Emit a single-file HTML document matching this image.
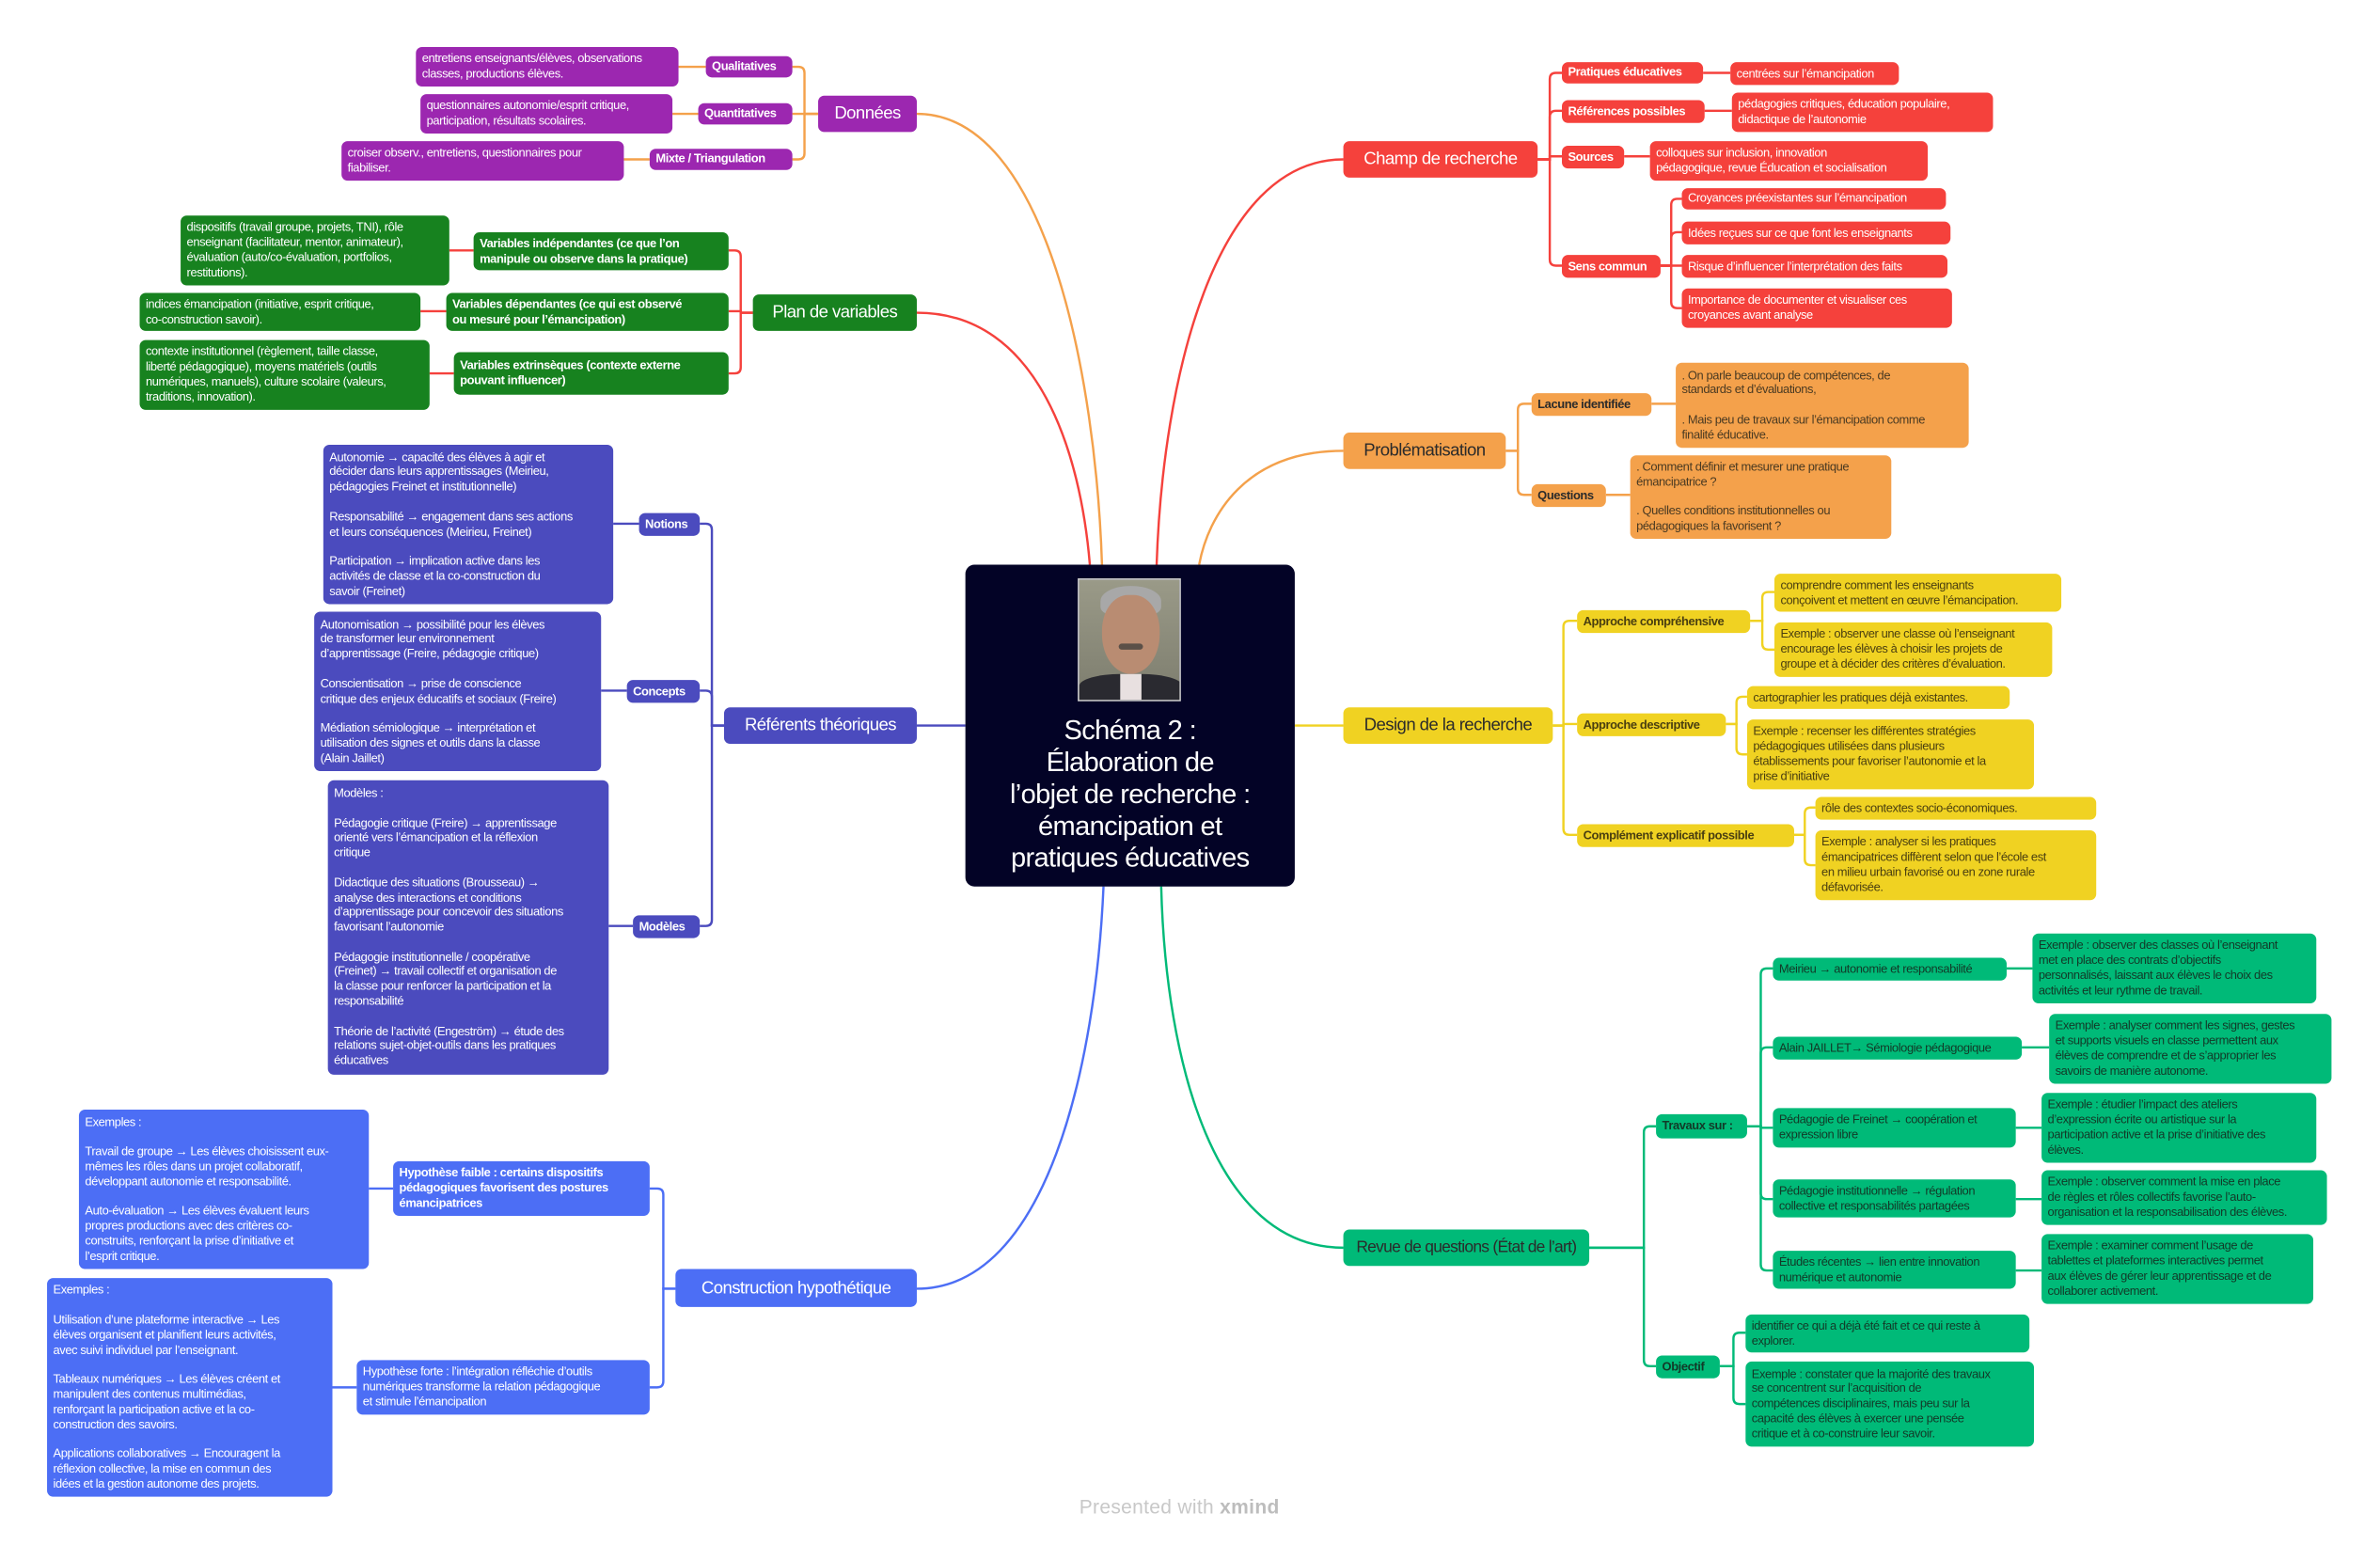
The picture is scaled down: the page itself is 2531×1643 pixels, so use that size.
<!DOCTYPE html>
<html><head><meta charset="utf-8">
<style>
html,body{margin:0;padding:0;background:#fff;}
body{width:2531px;height:1643px;overflow:hidden;position:relative;}
#s{position:absolute;left:0;top:0;width:1568px;height:1018px;transform:scale(1.6142);transform-origin:0 0;font-family:"Liberation Sans",sans-serif;}
.n{position:absolute;box-sizing:border-box;border-radius:4px;display:flex;align-items:center;padding:1px 4px;font-size:8px;line-height:9.8px;letter-spacing:-0.25px;color:#fff;white-space:nowrap;overflow:visible;}
.m{font-size:11.5px;justify-content:center;letter-spacing:-0.35px;padding-top:3px;}
.b{font-weight:bold;}
svg{position:absolute;left:0;top:0;}
</style></head><body><div id="s">
<svg id="g" width="1568" height="1018" viewBox="0 0 1568 1018" fill="none" stroke-width="1.5"></svg>
<div class="n" style="left:636px;top:372px;width:217px;height:212px;background:#030326;border-radius:6px;"></div>
<div style="position:absolute;left:710px;top:381px;width:68px;height:81px;background:linear-gradient(#9a9a88,#7d7d6e);overflow:hidden;border:1px solid #ccc;box-sizing:border-box;">
<div style="position:absolute;left:14px;top:4px;width:40px;height:20px;border-radius:50% 50% 30% 30%;background:#a8a8a8;"></div>
<div style="position:absolute;left:15px;top:10px;width:38px;height:52px;border-radius:45% 45% 50% 50%;background:#b98c72;"></div>
<div style="position:absolute;left:26px;top:42px;width:16px;height:4px;background:#5b5048;border-radius:2px;"></div>
<div style="position:absolute;left:0;top:62px;width:68px;height:20px;background:#2a2a30;border-radius:40% 40% 0 0;"></div>
<div style="position:absolute;left:27px;top:62px;width:14px;height:20px;background:#e8e0e0;"></div>
</div>
<div style="position:absolute;left:636px;top:471px;width:217px;text-align:center;color:#fff;font-size:18px;line-height:21px;letter-spacing:-0.4px;">Schéma 2 :<br>Élaboration de<br>l’objet de recherche :<br>émancipation et<br>pratiques éducatives</div>
<div id="nodes"></div>
<div style="position:absolute;left:711px;top:985px;font-size:13px;color:#c8c8c8;letter-spacing:0.2px;">Presented with <b style="color:#bdbdbd">xmind</b></div>
</div>
<script>
var P='#9C27B0',G='#17821F',I='#4B4BBE',B='#4C6EF5',R='#F5413C',O='#F4A14B',Y='#F0D222',T='#00BA78';
var dk='#2b2b2b';
var N=[
[539,63,604,87,P,'#fff','m','Données'],
[496,194,604,218,G,'#fff','m','Plan de variables'],
[477,466,604,490,I,'#fff','m','Référents théoriques'],
[445,836,604,861,B,'#fff','m','Construction hypothétique'],
[885,93,1013,117,R,'#fff','m','Champ de recherche'],
[885,285,992,309,O,dk,'m','Problématisation'],
[885,466,1023,490,Y,dk,'m','Design de la recherche'],
[885,810,1047,834,T,dk,'m','<span style="font-size:10.8px;letter-spacing:-0.45px">Revue de questions (État de l’art)</span>'],
[465,37,522,51,P,'#fff','b','Qualitatives'],
[274,31,447,57,P,'#fff','','entretiens enseignants/élèves, observations<br>classes, productions élèves.'],
[460,68,522,82,P,'#fff','b','Quantitatives'],
[277,62,443,88,P,'#fff','','questionnaires autonomie/esprit critique,<br>participation, résultats scolaires.'],
[428,98,522,112,P,'#fff','b','Mixte / Triangulation'],
[225,93,411,119,P,'#fff','','croiser observ., entretiens, questionnaires pour<br>fiabiliser.'],
[312,153,480,178,G,'#fff','b','Variables indépendantes (ce que l’on<br>manipule ou observe dans la pratique)'],
[119,142,296,188,G,'#fff','','dispositifs (travail groupe, projets, TNI), rôle<br>enseignant (facilitateur, mentor, animateur),<br>évaluation (auto/co-évaluation, portfolios,<br>restitutions).'],
[294,193,480,218,G,'#fff','b','Variables dépendantes (ce qui est observé<br>ou mesuré pour l’émancipation)'],
[92,193,277,218,G,'#fff','','indices émancipation (initiative, esprit critique,<br>co-construction savoir).'],
[299,232,480,260,G,'#fff','b','Variables extrinsèques (contexte externe<br>pouvant influencer)'],
[92,224,283,270,G,'#fff','','contexte institutionnel (règlement, taille classe,<br>liberté pédagogique), moyens matériels (outils<br>numériques, manuels), culture scolaire (valeurs,<br>traditions, innovation).'],
[421,338,461,353,I,'#fff','b','Notions'],
[213,293,404,398,I,'#fff','','Autonomie → capacité des élèves à agir et<br>décider dans leurs apprentissages (Meirieu,<br>pédagogies Freinet et institutionnelle)<br><br>Responsabilité → engagement dans ses actions<br>et leurs conséquences (Meirieu, Freinet)<br><br>Participation → implication active dans les<br>activités de classe et la co-construction du<br>savoir (Freinet)'],
[413,448,461,463,I,'#fff','b','Concepts'],
[207,403,396,508,I,'#fff','','Autonomisation → possibilité pour les élèves<br>de transformer leur environnement<br>d’apprentissage (Freire, pédagogie critique)<br><br>Conscientisation → prise de conscience<br>critique des enjeux éducatifs et sociaux (Freire)<br><br>Médiation sémiologique → interprétation et<br>utilisation des signes et outils dans la classe<br>(Alain Jaillet)'],
[417,603,461,618,I,'#fff','b','Modèles'],
[216,514,401,708,I,'#fff','','Modèles :<br><br>Pédagogie critique (Freire) → apprentissage<br>orienté vers l’émancipation et la réflexion<br>critique<br><br>Didactique des situations (Brousseau) →<br>analyse des interactions et conditions<br>d’apprentissage pour concevoir des situations<br>favorisant l’autonomie<br><br>Pédagogie institutionnelle / coopérative<br>(Freinet) → travail collectif et organisation de<br>la classe pour renforcer la participation et la<br>responsabilité<br><br>Théorie de l’activité (Engeström) → étude des<br>relations sujet-objet-outils dans les pratiques<br>éducatives'],
[259,765,428,801,B,'#fff','b','Hypothèse faible : certains dispositifs<br>pédagogiques favorisent des postures<br>émancipatrices'],
[52,731,243,836,B,'#fff','','Exemples :<br><br>Travail de groupe → Les élèves choisissent eux-<br>mêmes les rôles dans un projet collaboratif,<br>développant autonomie et responsabilité.<br><br>Auto-évaluation → Les élèves évaluent leurs<br>propres productions avec des critères co-<br>construits, renforçant la prise d’initiative et<br>l’esprit critique.'],
[235,896,428,932,B,'#fff','','Hypothèse forte : l’intégration réfléchie d’outils<br>numériques transforme la relation pédagogique<br>et stimule l’émancipation'],
[31,842,219,986,B,'#fff','','Exemples :<br><br>Utilisation d’une plateforme interactive → Les<br>élèves organisent et planifient leurs activités,<br>avec suivi individuel par l’enseignant.<br><br>Tableaux numériques → Les élèves créent et<br>manipulent des contenus multimédias,<br>renforçant la participation active et la co-<br>construction des savoirs.<br><br>Applications collaboratives  → Encouragent la<br>réflexion collective, la mise en commun des<br>idées et la gestion autonome des projets.'],
[1029,41,1122,55,R,'#fff','b','Pratiques éducatives'],
[1140,41,1251,56,R,'#fff','','centrées sur l’émancipation'],
[1029,66,1123,81,R,'#fff','b','Références possibles'],
[1141,61,1313,87,R,'#fff','','pédagogies critiques, éducation populaire,<br>didactique de l’autonomie'],
[1029,96,1070,111,R,'#fff','b','Sources'],
[1087,93,1270,119,R,'#fff','','colloques sur inclusion, innovation<br>pédagogique, revue Éducation et socialisation'],
[1029,168,1094,183,R,'#fff','b','Sens commun'],
[1108,124,1282,138,R,'#fff','','Croyances préexistantes sur l’émancipation'],
[1108,146,1285,161,R,'#fff','','Idées reçues sur ce que font les enseignants'],
[1108,168,1283,183,R,'#fff','','Risque d’influencer l’interprétation des faits'],
[1108,190,1286,216,R,'#fff','','Importance de documenter et visualiser ces<br>croyances avant analyse'],
[1009,259,1088,274,O,dk,'b','Lacune identifiée'],
[1104,239,1297,295,O,'#4a3a22','','. On parle beaucoup de compétences, de<br>standards et d’évaluations,<br><br>. Mais peu de travaux sur l’émancipation comme<br>finalité éducative.'],
[1009,319,1058,334,O,dk,'b','Questions'],
[1074,300,1246,355,O,'#4a3a22','','. Comment définir et mesurer une pratique<br>émancipatrice ?<br><br>. Quelles conditions institutionnelles ou<br>pédagogiques la favorisent ?'],
[1039,402,1153,417,Y,'#4a3f10','b','Approche compréhensive'],
[1169,378,1358,403,Y,'#4a3f10','','comprendre comment les enseignants<br>conçoivent et mettent en œuvre l’émancipation.'],
[1169,410,1352,446,Y,'#4a3f10','','Exemple : observer une classe où l’enseignant<br>encourage les élèves à choisir les projets de<br>groupe et à décider des critères d’évaluation.'],
[1039,470,1137,485,Y,'#4a3f10','b','Approche descriptive'],
[1151,452,1324,467,Y,'#4a3f10','','cartographier les pratiques déjà existantes.'],
[1151,474,1340,520,Y,'#4a3f10','','Exemple : recenser les différentes stratégies<br>pédagogiques utilisées dans plusieurs<br>établissements pour favoriser l’autonomie et la<br>prise d’initiative'],
[1039,543,1182,558,Y,'#4a3f10','b','Complément explicatif possible'],
[1196,525,1381,540,Y,'#4a3f10','','rôle des contextes socio-économiques.'],
[1196,547,1381,593,Y,'#4a3f10','','Exemple : analyser si les pratiques<br>émancipatrices diffèrent selon que l’école est<br>en milieu urbain favorisé ou en zone rurale<br>défavorisée.'],
[1091,734,1151,750,T,'#123a28','b','Travaux sur :'],
[1168,631,1322,646,T,'#123a28','','Meirieu → autonomie et responsabilité'],
[1339,615,1526,661,T,'#123a28','','Exemple : observer des classes où l’enseignant<br>met en place des contrats d’objectifs<br>personnalisés, laissant aux élèves le choix des<br>activités et leur rythme de travail.'],
[1168,683,1332,698,T,'#123a28','','Alain JAILLET→ Sémiologie pédagogique'],
[1350,668,1536,714,T,'#123a28','','Exemple : analyser comment les signes, gestes<br>et supports visuels en classe permettent aux<br>élèves de comprendre et de s’approprier les<br>savoirs de manière autonome.'],
[1168,730,1328,756,T,'#123a28','','Pédagogie de Freinet → coopération et<br>expression libre'],
[1345,720,1526,766,T,'#123a28','','Exemple : étudier l’impact des ateliers<br>d’expression écrite ou artistique sur la<br>participation active et la prise d’initiative des<br>élèves.'],
[1168,777,1328,802,T,'#123a28','','Pédagogie institutionnelle → régulation<br>collective et responsabilités partagées'],
[1345,771,1533,807,T,'#123a28','','Exemple : observer comment la mise en place<br>de règles et rôles collectifs favorise l’auto-<br>organisation et la responsabilisation des élèves.'],
[1168,824,1328,849,T,'#123a28','','Études récentes → lien entre innovation<br>numérique et autonomie'],
[1345,813,1524,859,T,'#123a28','','Exemple : examiner comment l’usage de<br>tablettes et plateformes interactives permet<br>aux élèves de gérer leur apprentissage et de<br>collaborer activement.'],
[1091,893,1133,908,T,'#123a28','b','Objectif'],
[1150,866,1337,891,T,'#123a28','','identifier ce qui a déjà été fait et ce qui reste à<br>explorer.'],
[1150,897,1340,953,T,'#123a28','','Exemple : constater que la majorité des travaux<br>se concentrent sur l’acquisition de<br>compétences disciplinaires, mais peu sur la<br>capacité des élèves à exercer une pensée<br>critique et à co-construire leur savoir.']
];
var h='';
N.forEach(function(a){h+='<div class="n '+a[6]+'" style="left:'+a[0]+'px;top:'+a[1]+'px;width:'+(a[2]-a[0])+'px;height:'+(a[3]-a[1])+'px;background:'+a[4]+';color:'+a[5]+'"><div>'+a[7]+'</div></div>';});
document.getElementById('nodes').innerHTML=h;
var s='';
function p(d,c){s+='<path d="'+d+'" stroke="'+c+'"/>';}
function br(px,py,bx,cx,cy,c){var r=4,sg=cy>py?1:-1,dir=cx>bx?1:-1;
 if(Math.abs(cy-py)<r+1){p('M'+px+','+py+' H'+bx+' V'+cy+' H'+cx,c);return;}
 p('M'+px+','+py+' H'+bx+' V'+(cy-sg*r)+' Q'+bx+','+cy+' '+(bx+dir*r)+','+cy+' H'+cx,c);}
function L(x1,y1,x2,y2,c){p('M'+x1+','+y1+' L'+x2+','+y2,c);}
p('M604,75 C690,75 722,250 726,372',O);
p('M604,206 C685,206 712,300 718,372',R);
p('M885,105 C800,105 766,250 762,372',R);
p('M885,297 C820,297 796,340 790,372',O);
L(604,478,636,478,I);L(853,478,885,478,Y);
p('M604,849 C690,849 722,700 727,584',B);
p('M885,822 C800,822 768,700 765,584',T);
[44,75,105].forEach(function(y){br(539,75,530,522,y,O);});
L(447,44,465,44,O);L(443,75,460,75,O);L(411,105,428,105,O);
[165,205,246].forEach(function(y){br(496,206,488,480,y,R);});
L(296,165,312,165,R);L(277,205,294,205,R);L(283,246,299,246,R);
[345,455,610].forEach(function(y){br(477,478,469,461,y,I);});
L(404,345,421,345,I);L(396,455,413,455,I);L(401,610,417,610,I);
[783,914].forEach(function(y){br(445,849,437,428,y,B);});
L(243,783,259,783,B);L(219,914,235,914,B);
[48,73,103,175].forEach(function(y){br(1013,105,1021,1029,y,R);});
L(1122,48,1140,48,R);L(1123,73,1141,73,R);L(1070,103,1087,103,R);
[131,153,175,203].forEach(function(y){br(1094,175,1101,1108,y,R);});
[266,326].forEach(function(y){br(992,297,1000,1009,y,O);});
L(1088,266,1104,266,O);L(1058,326,1074,326,O);
[409,477,550].forEach(function(y){br(1023,478,1030,1039,y,Y);});
[390,428].forEach(function(y){br(1153,409,1161,1169,y,Y);});
[459,497].forEach(function(y){br(1137,477,1144,1151,y,Y);});
[532,570].forEach(function(y){br(1182,550,1189,1196,y,Y);});
[742,900].forEach(function(y){br(1047,822,1083,1091,y,T);});
[638,690,743,790,837].forEach(function(y){br(1151,742,1160,1168,y,T);});
L(1322,638,1339,638,T);L(1332,690,1350,690,T);L(1328,743,1345,743,T);L(1328,790,1345,790,T);L(1328,837,1345,837,T);
[878,925].forEach(function(y){br(1133,900,1142,1150,y,T);});
document.getElementById('g').innerHTML=s;
</script>
</body></html>
